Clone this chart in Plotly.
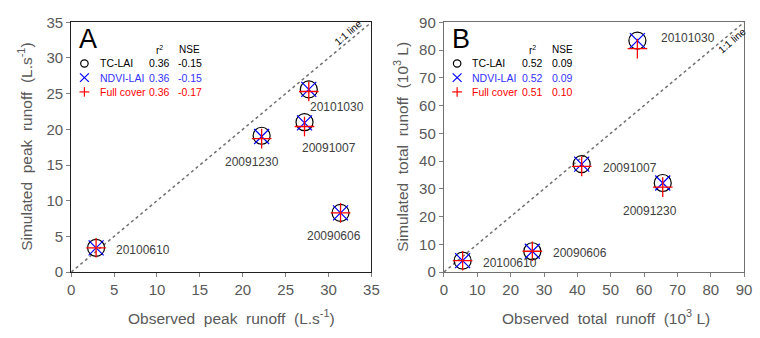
import plotly.graph_objects as go

# ---------------- data ----------------
dates = ["20090606", "20091007", "20091230", "20100610", "20101030"]

# Panel A: peak runoff (L.s-1)
obs_peak = [31.4, 27.2, 22.2, 2.9, 27.7]
tc_peak = [8.3, 21.0, 19.1, 3.4, 25.6]
ndvi_peak = [8.3, 20.9, 19.0, 3.4, 25.6]
full_peak = [8.3, 20.4, 18.7, 3.4, 25.3]

# Panel B: total runoff (10^3 L)
obs_total = [26.5, 41.3, 65.6, 5.6, 58.0]
tc_total = [7.5, 38.9, 32.1, 4.1, 83.4]
ndvi_total = [7.5, 38.9, 32.1, 4.1, 83.4]
full_total = [7.5, 38.1, 30.6, 4.1, 80.5]

series_names = ["TC-LAI", "NDVI-LAI", "Full cover"]
r2_A = ["0.36", "0.36", "0.36"]
nse_A = ["-0.15", "-0.15", "-0.17"]
r2_B = ["0.52", "0.52", "0.51"]
nse_B = ["0.09", "0.09", "0.10"]

ticks_A = [0, 5, 10, 15, 20, 25, 30, 35]
ticks_B = [0, 10, 20, 30, 40, 50, 60, 70, 80, 90]

# ---------------- styling / layout ----------------
W, H = 760, 338
FONT = "Liberation Sans, Arial, sans-serif"
GRAY = "#595959"
LABEL = "#404040"
TEXTCOLORS = ["#000000", "#3333ff", "#ff0000"]

# label offsets (pixels) per date, per panel
off_A = {"20101030": (-1, -18), "20091007": (-5, -26), "20091230": (-39, -26),
         "20090606": (-36, -23), "20100610": (18, -2)}
off_B = {"20101030": (22, 3), "20091007": (19, -4), "20091230": (-42, -28),
         "20090606": (19, -2), "20100610": (18, -2)}

def px(x):
    return x / W

def py(y):
    return 1 - y / H

dom_A = [px(68.3), px(373.3)]
dom_B = [px(447), px(752)]
dom_y = [py(277), py(14)]

fig = go.Figure()

def add_panel(xa, ya, obs, tc, ndvi, full, rng):
    fig.add_trace(go.Scatter(x=[0, rng], y=[0, rng], mode="lines",
                             line=dict(color="#707070", width=1.5, dash="dot"),
                             xaxis=xa, yaxis=ya, showlegend=False, hoverinfo="skip"))
    fig.add_trace(go.Scatter(x=obs, y=tc, mode="markers", name="TC-LAI",
                             marker=dict(symbol="circle-open", size=17, color="#000000",
                                         line=dict(width=1.2, color="#000000")),
                             xaxis=xa, yaxis=ya, showlegend=False))
    fig.add_trace(go.Scatter(x=obs, y=ndvi, mode="markers", name="NDVI-LAI",
                             marker=dict(symbol="x-thin-open", size=15, color="#0000ff",
                                         line=dict(width=1.2, color="#0000ff")),
                             xaxis=xa, yaxis=ya, showlegend=False))
    fig.add_trace(go.Scatter(x=obs, y=full, mode="markers", name="Full cover",
                             marker=dict(symbol="cross-thin-open", size=14, color="#ff0000",
                                         line=dict(width=1.3, color="#ff0000")),
                             xaxis=xa, yaxis=ya, showlegend=False))

add_panel("x", "y", obs_peak, tc_peak, ndvi_peak, full_peak, 35)
add_panel("x2", "y2", obs_total, tc_total, ndvi_total, full_total, 90)

ax_common = dict(showgrid=False, zeroline=False, showline=True, mirror=True,
                 ticks="outside", ticklen=4, tickcolor="#808080",
                 tickfont=dict(family=FONT, size=15, color=GRAY))

fig.update_layout(
    width=W, height=H, margin=dict(l=0, r=0, t=0, b=0),
    paper_bgcolor="white", plot_bgcolor="white",
    xaxis=dict(domain=dom_A, range=[0, 35], tickvals=ticks_A, anchor="y",
               linecolor="#202020", linewidth=1.3, **ax_common),
    yaxis=dict(domain=dom_y, range=[0, 35], tickvals=ticks_A, anchor="x",
               linecolor="#202020", linewidth=1.3, **ax_common),
    xaxis2=dict(domain=dom_B, range=[0, 90], tickvals=ticks_B, anchor="y2",
                linecolor="#707070", linewidth=1.3, **ax_common),
    yaxis2=dict(domain=dom_y, range=[0, 90], tickvals=ticks_B, anchor="x2",
                linecolor="#707070", linewidth=1.3, **ax_common),
    showlegend=False,
)

ann = []
shapes = []

def point_labels(xa, ya, obs, sim, offs):
    for d, xv, yv in zip(dates, obs, sim):
        dx, dy = offs[d]
        ann.append(dict(x=xv, y=yv, xref=xa, yref=ya, text=d, showarrow=False,
                        xanchor="left", yanchor="middle", xshift=dx, yshift=dy,
                        font=dict(family=FONT, size=12, color=LABEL)))

point_labels("x", "y", obs_peak, tc_peak, off_A)
point_labels("x2", "y2", obs_total, tc_total, off_B)

def legend_block(x0, letter, r2, nse):
    ann.append(dict(x=px(x0 + 6), y=py(32), xref="paper", yref="paper", text=letter,
                    showarrow=False, xanchor="left", yanchor="middle",
                    font=dict(family=FONT, size=27, color="#000000")))
    ann.append(dict(x=px(x0 + 90), y=py(43), xref="paper", yref="paper", text="r<sup>2</sup>",
                    showarrow=False, xanchor="center", yanchor="middle",
                    font=dict(family=FONT, size=10, color="#000000")))
    ann.append(dict(x=px(x0 + 120), y=py(43), xref="paper", yref="paper", text="NSE",
                    showarrow=False, xanchor="center", yanchor="middle",
                    font=dict(family=FONT, size=10, color="#000000")))
    rows = [57.3, 72.3, 87.3]
    for i, (nm, r, n) in enumerate(zip(series_names, r2, nse)):
        yy = rows[i]
        f = dict(family=FONT, size=10.5, color=TEXTCOLORS[i])
        ann.append(dict(x=px(x0 + 26.7), y=py(yy), xref="paper", yref="paper", text=nm,
                        showarrow=False, xanchor="left", yanchor="middle", font=f))
        ann.append(dict(x=px(x0 + 90), y=py(yy), xref="paper", yref="paper", text=r,
                        showarrow=False, xanchor="center", yanchor="middle", font=f))
        ann.append(dict(x=px(x0 + 120.5), y=py(yy), xref="paper", yref="paper", text=n,
                        showarrow=False, xanchor="center", yanchor="middle", font=f))
        cx = x0 + 13.4
        if i == 0:
            shapes.append(dict(type="circle", xref="paper", yref="paper",
                               x0=px(cx - 3.8), x1=px(cx + 3.8), y0=py(yy + 3.8), y1=py(yy - 3.8),
                               line=dict(color="#000000", width=1.2)))
        elif i == 1:
            for a, b in [((-4.5, -4.5), (4.5, 4.5)), ((-4.5, 4.5), (4.5, -4.5))]:
                shapes.append(dict(type="line", xref="paper", yref="paper",
                                   x0=px(cx + a[0]), y0=py(yy + a[1]),
                                   x1=px(cx + b[0]), y1=py(yy + b[1]),
                                   line=dict(color="#0000ff", width=1.2)))
        else:
            for a, b in [((-5, 0), (5, 0)), ((0, -5), (0, 5))]:
                shapes.append(dict(type="line", xref="paper", yref="paper",
                                   x0=px(cx + a[0]), y0=py(yy + a[1]),
                                   x1=px(cx + b[0]), y1=py(yy + b[1]),
                                   line=dict(color="#ff0000", width=1.2)))

legend_block(68.3, "A", r2_A, nse_A)
legend_block(447, "B", r2_B, nse_B)

# "1:1 line" labels: above the line in A, below it in B
for xp, yp in [(350, 25), (740, 33.5)]:
    ann.append(dict(x=px(xp), y=py(yp), xref="paper", yref="paper", text="1:1 line",
                    showarrow=False, textangle=-40.8, xanchor="center", yanchor="middle",
                    font=dict(family=FONT, size=10, color="#000000")))

SP = "\u00a0 "
titles = [
    (231, 324, 0, f"Observed{SP}peak{SP}runoff{SP}(L.s<sup>-1</sup>)"),
    (22, 145.5, -90, f"Simulated{SP}peak{SP}runoff{SP}(L.s<sup>-1</sup>)"),
    (612, 324, 0, f"Observed{SP}total{SP}runoff{SP}(10<sup>3</sup> L)"),
    (404, 145.5, -90, f"Simulated{SP}total{SP}runoff{SP}(10<sup>3</sup> L)"),
]
for xp, yp, ang, t in titles:
    ann.append(dict(x=px(xp), y=py(yp), xref="paper", yref="paper", text=t,
                    showarrow=False, textangle=ang, xanchor="center", yanchor="middle",
                    font=dict(family=FONT, size=15.5, color=GRAY)))

fig.update_layout(annotations=ann, shapes=shapes)
fig.write_html("out.html", config={"displayModeBar": False},
               post_script="document.body.style.margin='0';document.body.style.padding='0';")
